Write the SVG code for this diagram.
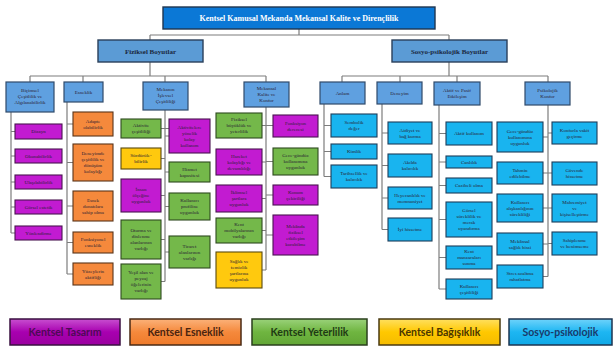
<svg xmlns="http://www.w3.org/2000/svg" width="615" height="347" viewBox="0 0 615 347">
<defs>
<style>
.t{font-family:"Liberation Serif","Times New Roman",serif;font-size:5px;fill:#2a2233;text-anchor:middle}
.tb{font-family:"Liberation Serif","Times New Roman",serif;font-weight:bold;text-anchor:middle}
.lg{font-family:Lato,"Liberation Sans",sans-serif;font-weight:bold;font-size:10.5px;text-anchor:middle}
.c{fill:none;stroke:#7d7d7d;stroke-width:1.2}
.l3{fill:#5fa0e0;stroke:#2f4a6a;stroke-width:1.2}
.mg{fill:#c21bd1;stroke:#4a1550;stroke-width:1.1}
.or{fill:#f5893c;stroke:#5a3418;stroke-width:1.1}
.gr{fill:#74b84a;stroke:#2e4a20;stroke-width:1.1}
.ye{fill:#ffc90e;stroke:#5a4a10;stroke-width:1.1}
.cy{fill:#19b4ef;stroke:#1d3d5a;stroke-width:1.1}
</style>
<linearGradient id="gM" x1="0" y1="0" x2="0" y2="1"><stop offset="0" stop-color="#d866e0"/><stop offset="0.5" stop-color="#c41fd2"/><stop offset="1" stop-color="#b414c4"/></linearGradient>
<linearGradient id="gL" x1="0" y1="0" x2="0" y2="1"><stop offset="0" stop-color="#c84fd0"/><stop offset="0.5" stop-color="#a800b0"/><stop offset="1" stop-color="#9a009f"/></linearGradient>
<linearGradient id="gO" x1="0" y1="0" x2="0" y2="1"><stop offset="0" stop-color="#fbb27a"/><stop offset="0.5" stop-color="#f5893c"/><stop offset="1" stop-color="#ee7a2a"/></linearGradient>
<linearGradient id="gG" x1="0" y1="0" x2="0" y2="1"><stop offset="0" stop-color="#9ad27a"/><stop offset="0.5" stop-color="#6fb540"/><stop offset="1" stop-color="#62a636"/></linearGradient>
<linearGradient id="gY" x1="0" y1="0" x2="0" y2="1"><stop offset="0" stop-color="#ffe060"/><stop offset="0.5" stop-color="#ffc800"/><stop offset="1" stop-color="#f5bb00"/></linearGradient>
<linearGradient id="gC" x1="0" y1="0" x2="0" y2="1"><stop offset="0" stop-color="#6fd3fb"/><stop offset="0.5" stop-color="#1db6f2"/><stop offset="1" stop-color="#10a8e6"/></linearGradient>
</defs>
<rect width="615" height="347" fill="#ffffff"/>

<g id="connectors">
<path class="c" d="M299,29V35M150,35H449M150,35V40M449,35V40"/>
<path class="c" d="M150,62V76M30,76H266M30,76V82M83,76V82M165,76V82M266,76V82"/>
<path class="c" d="M449,62V76M342,76H548M342,76V82M400,76V82M457,76V82M548,76V82"/>
<path class="c" d="M11,112V233M11,131.5H15M11,156H15M11,182H15M11,207H15M11,233H15"/>
<path class="c" d="M67,102V274M67,124H73M67,162.5H73M67,206H73M67,242.5H73M67,274H73"/>
<path class="c" d="M165,110V281.5M161,128.5H169M161,158.5H165M161,195.5H165M161,239.5H165M161,281.5H165M165,136H169M165,172H169M165,206.5H169M165,252H169"/>
<path class="c" d="M266,107V270M262,125.5H273M262,162H266M262,198.5H266M262,230.5H266M262,270H266M266,161.5H273M266,195H273M266,235H273"/>
<path class="c" d="M324,104V176.5M324,125.5H331M324,151.5H331M324,176.5H331"/>
<path class="c" d="M382,104V229.5M382,133H388M382,165.5H388M382,198H388M382,229.5H388"/>
<path class="c" d="M439,105V289M439,133.5H446M439,162H446M439,185.5H446M439,219.5H446M439,257.5H446M439,289H446"/>
<path class="c" d="M548,105V276.5M543,137H548M543,173H552M543,208H552M543,244H548M543,276.5H548M548,133H552M548,243.5H552"/>
</g>

<g id="title">
<rect x="163" y="7" width="272" height="22" fill="#0b78d6" stroke="#1f3550" stroke-width="1.4"/>
<text class="tb" x="299" y="20.8" font-size="8" fill="#ffffff">Kentsel Kamusal Mekanda Mekansal Kalite ve Dirençlilik</text>
</g>
<g id="fiziksel">
<rect x="98" y="40" width="105" height="22" fill="#5b9bd5" stroke="#2a3f5a" stroke-width="1.4"/>
<text class="tb" x="150.5" y="53.5" font-size="7" fill="#1a2840">Fiziksel Boyutlar</text>
</g>
<g id="sosyo">
<rect x="392" y="40" width="115" height="22" fill="#5b9bd5" stroke="#2a3f5a" stroke-width="1.4"/>
<text class="tb" x="449.5" y="53.5" font-size="7" fill="#1a2840">Sosyo-psikolojik Boyutlar</text>
</g>

<g id="bicimsel"><rect class="l3" x="6" y="82" width="48" height="30"/><text class="t" x="30" y="92"><tspan x="30">Biçimsel</tspan><tspan x="30" dy="6">Çeşitlilik ve</tspan><tspan x="30" dy="6">Algılanabilirlik</tspan></text></g>
<g id="esneklik"><rect class="l3" x="64" y="82" width="39" height="20"/><text class="t" x="83.5" y="93.7">Esneklik</text></g>
<g id="islevsel"><rect class="l3" x="143" y="82" width="45" height="28"/><text class="t" x="165.5" y="91"><tspan x="165.5">Mekanın</tspan><tspan x="165.5" dy="6">İşlevsel</tspan><tspan x="165.5" dy="6">Çeşitliliği</tspan></text></g>
<g id="kalite"><rect class="l3" x="244" y="82" width="45" height="25"/><text class="t" x="266.5" y="89.5"><tspan x="266.5">Mekansal</tspan><tspan x="266.5" dy="6">Kalite ve</tspan><tspan x="266.5" dy="6">Konfor</tspan></text></g>
<g id="anlam"><rect class="l3" x="320" y="82" width="45" height="22"/><text class="t" x="342.5" y="94.7">Anlam</text></g>
<g id="deneyim"><rect class="l3" x="377" y="82" width="45" height="22"/><text class="t" x="399.5" y="94.7">Deneyim</text></g>
<g id="aktif"><rect class="l3" x="434" y="82" width="46" height="23"/><text class="t" x="457" y="92.2"><tspan x="457">Aktif ve Pasif</tspan><tspan x="457" dy="6">Etkileşim</tspan></text></g>
<g id="psikolojik"><rect class="l3" x="525" y="82" width="45" height="23"/><text class="t" x="547.5" y="92.2"><tspan x="547.5">Psikolojik</tspan><tspan x="547.5" dy="6">Konfor</tspan></text></g>

<g id="dizayn"><rect class="mg" fill="url(#gM)" x="15" y="124" width="47" height="15"/><text class="t" x="38.5" y="133.2">Dizayn</text></g>
<g id="okunabilirlik"><rect class="mg" fill="url(#gM)" x="15" y="149" width="47" height="14"/><text class="t" x="38.5" y="157.7">Okunabilirlik</text></g>
<g id="ulasilabilirlik"><rect class="mg" fill="url(#gM)" x="15" y="175" width="47" height="14"/><text class="t" x="38.5" y="183.7">Ulaşılabilirlik</text></g>
<g id="gorsel-estetik"><rect class="mg" fill="url(#gM)" x="15" y="200" width="47" height="14"/><text class="t" x="38.5" y="208.7">Görsel estetik</text></g>
<g id="yonlendirme"><rect class="mg" fill="url(#gM)" x="15" y="226" width="47" height="14"/><text class="t" x="38.5" y="234.7">Yönlendirme</text></g>

<g id="adapte"><rect class="or" fill="url(#gO)" x="73" y="112" width="40" height="24"/><text class="t" x="93" y="122.7"><tspan x="93">Adapte</tspan><tspan x="93" dy="6">olabilirlik</tspan></text></g>
<g id="deneyimde"><rect class="or" fill="url(#gO)" x="73" y="144" width="40" height="37"/><text class="t" x="93" y="155.2"><tspan x="93">Deneyimde</tspan><tspan x="93" dy="6">çeşitlilik ve</tspan><tspan x="93" dy="6">dönüşüm</tspan><tspan x="93" dy="6">kolaylığı</tspan></text></g>
<g id="esnek-donati"><rect class="or" fill="url(#gO)" x="73" y="191" width="40" height="30"/><text class="t" x="93" y="201.7"><tspan x="93">Esnek</tspan><tspan x="93" dy="6">donatılara</tspan><tspan x="93" dy="6">sahip olma</tspan></text></g>
<g id="fonksiyonel"><rect class="or" fill="url(#gO)" x="73" y="232" width="40" height="21"/><text class="t" x="93" y="241.2"><tspan x="93">Fonksiyonel</tspan><tspan x="93" dy="6">esneklik</tspan></text></g>
<g id="yuzeyler"><rect class="or" fill="url(#gO)" x="73" y="263" width="40" height="22"/><text class="t" x="93" y="272.7"><tspan x="93">Yüzeylerin</tspan><tspan x="93" dy="6">aktifliği</tspan></text></g>

<g id="aktivite-cesitliligi"><rect class="gr" fill="url(#gG)" x="121" y="119" width="40" height="19"/><text class="t" x="141" y="127.2"><tspan x="141">Aktivite</tspan><tspan x="141" dy="6">çeşitliliği</tspan></text></g>
<g id="surdurulebilirlik"><rect class="ye" fill="url(#gY)" x="121" y="148" width="40" height="21"/><text class="t" x="141" y="157.2"><tspan x="141">Sürdürüle-</tspan><tspan x="141" dy="6">bilirlik</tspan></text></g>
<g id="insan-olcegi"><rect class="mg" fill="url(#gM)" x="121" y="179" width="40" height="33"/><text class="t" x="141" y="191.2"><tspan x="141">İnsan</tspan><tspan x="141" dy="6">ölçeğine</tspan><tspan x="141" dy="6">uygunluk</tspan></text></g>
<g id="oturma"><rect class="gr" fill="url(#gG)" x="121" y="220" width="40" height="39"/><text class="t" x="141" y="232.2"><tspan x="141">Oturma ve</tspan><tspan x="141" dy="6">dinlenme</tspan><tspan x="141" dy="6">alanlarının</tspan><tspan x="141" dy="6">varlığı</tspan></text></g>
<g id="yesil-alan"><rect class="gr" fill="url(#gG)" x="121" y="264" width="40" height="35"/><text class="t" x="141" y="274.2"><tspan x="141">Yeşil alan ve</tspan><tspan x="141" dy="6">peyzaj</tspan><tspan x="141" dy="6">öğelerinin</tspan><tspan x="141" dy="6">varlığı</tspan></text></g>
<g id="kolay-kullanim"><rect class="mg" fill="url(#gM)" x="169" y="119" width="41" height="34"/><text class="t" x="189.5" y="128.7"><tspan x="189.5">Aktivitelere</tspan><tspan x="189.5" dy="6">yönelik</tspan><tspan x="189.5" dy="6">kolay</tspan><tspan x="189.5" dy="6">kullanım</tspan></text></g>
<g id="hizmet"><rect class="gr" fill="url(#gG)" x="169" y="162" width="41" height="20"/><text class="t" x="189.5" y="170.7"><tspan x="189.5">Hizmet</tspan><tspan x="189.5" dy="6">kapasitesi</tspan></text></g>
<g id="kullanici-profili"><rect class="gr" fill="url(#gG)" x="169" y="193" width="41" height="27"/><text class="t" x="189.5" y="202.2"><tspan x="189.5">Kullanıcı</tspan><tspan x="189.5" dy="6">profiline</tspan><tspan x="189.5" dy="6">uygunluk</tspan></text></g>
<g id="ticaret"><rect class="gr" fill="url(#gG)" x="169" y="236" width="41" height="32"/><text class="t" x="189.5" y="247.7"><tspan x="189.5">Ticaret</tspan><tspan x="189.5" dy="6">alanlarının</tspan><tspan x="189.5" dy="6">varlığı</tspan></text></g>

<g id="fiziksel-buyukluk"><rect class="gr" fill="url(#gG)" x="216" y="113" width="46" height="25"/><text class="t" x="239" y="121.2"><tspan x="239">Fiziksel</tspan><tspan x="239" dy="6">büyüklük ve</tspan><tspan x="239" dy="6">yeterlilik</tspan></text></g>
<g id="hareket"><rect class="mg" fill="url(#gM)" x="216" y="149" width="46" height="26"/><text class="t" x="239" y="157.7"><tspan x="239">Hareket</tspan><tspan x="239" dy="6">kolaylığı ve</tspan><tspan x="239" dy="6">devamlılığı</tspan></text></g>
<g id="iklimsel"><rect class="mg" fill="url(#gM)" x="216" y="185" width="46" height="27"/><text class="t" x="239" y="194.2"><tspan x="239">İklimsel</tspan><tspan x="239" dy="6">şartlara</tspan><tspan x="239" dy="6">uygunluk</tspan></text></g>
<g id="kent-mobilya"><rect class="gr" fill="url(#gG)" x="216" y="218" width="46" height="25"/><text class="t" x="239" y="226.2"><tspan x="239">Kent</tspan><tspan x="239" dy="6">mobilyalarının</tspan><tspan x="239" dy="6">varlığı</tspan></text></g>
<g id="saglik-temizlik"><rect class="ye" fill="url(#gY)" x="216" y="252" width="46" height="36"/><text class="t" x="239" y="262.7"><tspan x="239">Sağlık ve</tspan><tspan x="239" dy="6">temizlik</tspan><tspan x="239" dy="6">şartlarına</tspan><tspan x="239" dy="6">uygunluk</tspan></text></g>
<g id="fonksiyon-derecesi"><rect class="mg" fill="url(#gM)" x="273" y="115" width="45" height="22"/><text class="t" x="295.5" y="124.7"><tspan x="295.5">Fonksiyon</tspan><tspan x="295.5" dy="6">derecesi</tspan></text></g>
<g id="gece-gunduz-1"><rect class="gr" fill="url(#gG)" x="273" y="148" width="45" height="27"/><text class="t" x="295.5" y="157.2"><tspan x="295.5">Gece-gündüz</tspan><tspan x="295.5" dy="6">kullanımına</tspan><tspan x="295.5" dy="6">uygunluk</tspan></text></g>
<g id="konum"><rect class="mg" fill="url(#gM)" x="273" y="185" width="45" height="20"/><text class="t" x="295.5" y="193.7"><tspan x="295.5">Konum</tspan><tspan x="295.5" dy="6">çekiciliği</tspan></text></g>
<g id="fiziksel-etkilesim"><rect class="mg" fill="url(#gM)" x="273" y="215" width="45" height="40"/><text class="t" x="295.5" y="227.7"><tspan x="295.5">Mekânda</tspan><tspan x="295.5" dy="6">fiziksel</tspan><tspan x="295.5" dy="6">etkileşim</tspan><tspan x="295.5" dy="6">kurabilme</tspan></text></g>

<g id="sembolik"><rect class="cy" fill="url(#gC)" x="331" y="114" width="46" height="23"/><text class="t" x="354" y="124.2"><tspan x="354">Sembolik</tspan><tspan x="354" dy="6">değer</tspan></text></g>
<g id="kimlik"><rect class="cy" fill="url(#gC)" x="331" y="144" width="46" height="15"/><text class="t" x="354" y="153.2">Kimlik</text></g>
<g id="tarihsellik"><rect class="cy" fill="url(#gC)" x="331" y="165" width="46" height="23"/><text class="t" x="354" y="175.2"><tspan x="354">Tarihsellik ve</tspan><tspan x="354" dy="6">kalıcılık</tspan></text></g>

<g id="aidiyet"><rect class="cy" fill="url(#gC)" x="388" y="122" width="44" height="22"/><text class="t" x="410" y="131.7"><tspan x="410">Aidiyet ve</tspan><tspan x="410" dy="6">bağ kurma</tspan></text></g>
<g id="akilda"><rect class="cy" fill="url(#gC)" x="388" y="154" width="44" height="23"/><text class="t" x="410" y="164.2"><tspan x="410">Akılda</tspan><tspan x="410" dy="6">kalıcılık</tspan></text></g>
<g id="heyecan"><rect class="cy" fill="url(#gC)" x="388" y="187" width="44" height="22"/><text class="t" x="410" y="196.7"><tspan x="410">Heyecanlılık ve</tspan><tspan x="410" dy="6">memnuniyet</tspan></text></g>
<g id="iyi-hissetme"><rect class="cy" fill="url(#gC)" x="388" y="218" width="44" height="23"/><text class="t" x="410" y="231.2">İyi hissetme</text></g>

<g id="aktif-kullanim"><rect class="cy" fill="url(#gC)" x="446" y="122" width="46" height="23"/><text class="t" x="469" y="135.2">Aktif kullanım</text></g>
<g id="canlilik"><rect class="cy" fill="url(#gC)" x="446" y="156" width="46" height="12"/><text class="t" x="469" y="163.7">Canlılık</text></g>
<g id="cazibeli"><rect class="cy" fill="url(#gC)" x="446" y="178" width="46" height="15"/><text class="t" x="469" y="187.2">Cazibeli olma</text></g>
<g id="gorsel-sureklilik"><rect class="cy" fill="url(#gC)" x="446" y="202" width="46" height="35"/><text class="t" x="469" y="212.2"><tspan x="469">Görsel</tspan><tspan x="469" dy="6">süreklilik ve</tspan><tspan x="469" dy="6">merak</tspan><tspan x="469" dy="6">uyandırma</tspan></text></g>
<g id="kent-manzara"><rect class="cy" fill="url(#gC)" x="446" y="246" width="46" height="23"/><text class="t" x="469" y="253.2"><tspan x="469">Kent</tspan><tspan x="469" dy="6">manzaraları</tspan><tspan x="469" dy="6">sunma</tspan></text></g>
<g id="kullanici-cesitliligi"><rect class="cy" fill="url(#gC)" x="446" y="279" width="46" height="20"/><text class="t" x="469" y="287.7"><tspan x="469">Kullanıcı</tspan><tspan x="469" dy="6">çeşitliliği</tspan></text></g>

<g id="gece-gunduz-2"><rect class="cy" fill="url(#gC)" x="497" y="122" width="46" height="30"/><text class="t" x="520" y="132.7"><tspan x="520">Gece-gündüz</tspan><tspan x="520" dy="6">kullanımına</tspan><tspan x="520" dy="6">uygunluk</tspan></text></g>
<g id="tahmin"><rect class="cy" fill="url(#gC)" x="497" y="162" width="46" height="22"/><text class="t" x="520" y="171.7"><tspan x="520">Tahmin</tspan><tspan x="520" dy="6">edilebilme</tspan></text></g>
<g id="aliskanlik"><rect class="cy" fill="url(#gC)" x="497" y="194" width="46" height="28"/><text class="t" x="520" y="203.7"><tspan x="520">Kullanıcı</tspan><tspan x="520" dy="6">alışkanlığının</tspan><tspan x="520" dy="6">sürekliliği</tspan></text></g>
<g id="saglik-hissi"><rect class="cy" fill="url(#gC)" x="497" y="233" width="46" height="22"/><text class="t" x="520" y="242.7"><tspan x="520">Mekânsal</tspan><tspan x="520" dy="6">sağlık hissi</tspan></text></g>
<g id="stres"><rect class="cy" fill="url(#gC)" x="497" y="265" width="46" height="23"/><text class="t" x="520" y="275.2"><tspan x="520">Stres azaltma</tspan><tspan x="520" dy="6">rahatlatma</tspan></text></g>
<g id="konforla"><rect class="cy" fill="url(#gC)" x="552" y="122" width="45" height="22"/><text class="t" x="574.5" y="131.7"><tspan x="574.5">Konforla vakit</tspan><tspan x="574.5" dy="6">geçirme</tspan></text></g>
<g id="guvende"><rect class="cy" fill="url(#gC)" x="552" y="162" width="45" height="23"/><text class="t" x="574.5" y="172.2"><tspan x="574.5">Güvende</tspan><tspan x="574.5" dy="6">hissetme</tspan></text></g>
<g id="mahremiyet"><rect class="cy" fill="url(#gC)" x="552" y="194" width="45" height="28"/><text class="t" x="574.5" y="203.7"><tspan x="574.5">Mahremiyet</tspan><tspan x="574.5" dy="6">ve</tspan><tspan x="574.5" dy="6">kişiselleştirme</tspan></text></g>
<g id="sahiplenme"><rect class="cy" fill="url(#gC)" x="552" y="232" width="45" height="23"/><text class="t" x="574.5" y="242.2"><tspan x="574.5">Sahiplenme</tspan><tspan x="574.5" dy="6">ve benimseme</tspan></text></g>

<g id="legend">
<rect x="10" y="319" width="110" height="26" fill="url(#gL)" stroke="#3a1040" stroke-width="1.5"/>
<text class="lg" x="65" y="335.5" fill="#4e0a55">Kentsel Tasarım</text>
<rect x="130" y="319" width="111" height="26" fill="url(#gO)" stroke="#4a2a14" stroke-width="1.5"/>
<text class="lg" x="185.5" y="335.5" fill="#4a2410">Kentsel Esneklik</text>
<rect x="252" y="319" width="115" height="26" fill="url(#gG)" stroke="#2a3f1c" stroke-width="1.5"/>
<text class="lg" x="309.5" y="335.5" fill="#1f3a14">Kentsel Yeterlilik</text>
<rect x="379" y="319" width="121" height="26" fill="url(#gY)" stroke="#4a3a10" stroke-width="1.5"/>
<text class="lg" x="439.5" y="335.5" fill="#4a3600">Kentsel Bağışıklık</text>
<rect x="509" y="319" width="103" height="26" fill="url(#gC)" stroke="#1d3550" stroke-width="1.5"/>
<text class="lg" x="560.5" y="335.5" fill="#1a3a6a">Sosyo-psikolojik</text>
</g>
</svg>
